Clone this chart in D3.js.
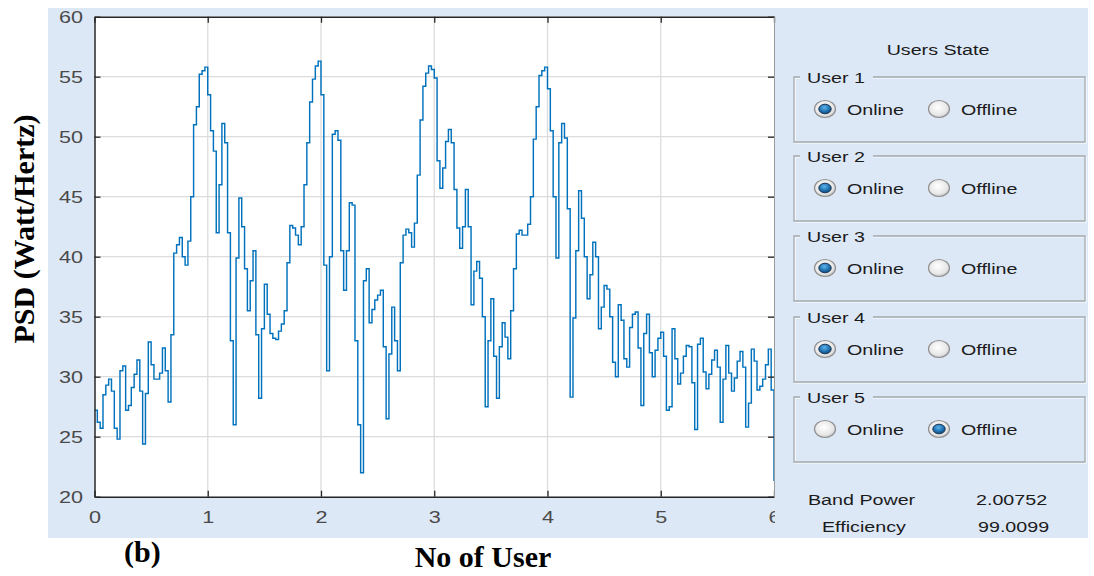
<!DOCTYPE html>
<html><head><meta charset="utf-8">
<script src="https://cdn.jsdelivr.net/npm/d3@7"></script>
<style>body{margin:0;background:#fff}</style>
</head><body>
<svg id="chart" width="1094" height="576"></svg>
<script>
// ---------- data ----------
const xTicks = [0, 1, 2, 3, 4, 5, 6];
const yTicks = [20, 25, 30, 35, 40, 45, 50, 55, 60];
const xDomain = [0, 6];
const yDomain = [20, 60];
const sampleStep = 0.025; // spacing of the PSD samples along "No of User"
const psdValues = [
  27.2, 26.2, 25.7, 28.5, 29.3, 29.8, 28.8, 25.7, 24.8, 30.5,
  30.9, 27.2, 27.6, 29.1, 30.2, 31.4, 28.8, 24.4, 28.6, 32.9,
  31.0, 29.8, 29.8, 30.3, 32.4, 30.5, 27.9, 33.5, 40.3, 41.0,
  41.6, 40.0, 39.3, 41.3, 45.0, 51.0, 52.5, 55.2, 55.5, 55.8,
  53.5, 50.5, 48.8, 42.0, 46.0, 51.1, 49.5, 42.0, 33.0, 26.0,
  39.9, 44.9, 42.5, 39.0, 35.5, 38.0, 40.5, 33.5, 28.2, 34.0,
  37.7, 35.2, 33.6, 33.2, 33.1, 33.8, 34.4, 35.5, 39.5, 42.6,
  42.4, 41.8, 41.0, 42.5, 46.0, 49.5, 52.9, 54.8, 55.9, 56.3,
  53.5, 39.3, 30.5, 40.0, 50.2, 50.5, 49.7, 40.5, 37.2, 40.5,
  44.5, 44.3, 33.0, 26.0, 22.0, 38.0, 39.0, 34.5, 35.6, 36.4,
  36.8, 37.2, 32.5, 26.5, 31.9, 35.8, 33.0, 30.5, 39.5, 41.8,
  42.3, 42.0, 40.8, 42.8, 46.8, 51.4, 54.2, 55.3, 55.9, 55.6,
  54.9, 48.0, 45.7, 47.4, 49.6, 50.6, 49.5, 45.6, 42.4, 40.7,
  42.5, 45.6, 42.5, 36.0, 38.8, 39.6, 38.2, 35.0, 27.5, 33.0,
  36.5, 31.7, 28.2, 32.5, 34.5, 33.3, 31.5, 35.5, 39.0, 41.9,
  42.2, 41.8, 41.8, 42.7, 45.0, 49.8, 52.5, 55.1, 55.5, 55.8,
  54.0, 50.5, 45.0, 39.9, 49.5, 51.1, 49.9, 44.0, 28.3, 34.9,
  40.5, 45.5, 43.2, 40.0, 36.5, 38.5, 41.2, 40.0, 34.0, 35.8,
  37.6, 37.3, 35.0, 31.2, 30.0, 36.0, 34.7, 31.5, 30.8, 34.1,
  35.2, 35.4, 32.4, 27.6, 33.6, 35.2, 32.0, 30.0, 32.2, 33.2,
  33.7, 31.7, 27.2, 27.5, 34.0, 31.5, 29.4, 30.3, 31.7, 32.6,
  32.5, 29.5, 25.6, 32.7, 33.2, 30.4, 29.0, 30.2, 31.4, 32.2,
  30.8, 26.2, 29.8, 32.6, 30.3, 28.8, 29.9, 31.3, 32.1, 30.8,
  25.8, 27.8, 32.3, 31.3, 28.9, 29.2, 29.8, 31.0, 32.3, 28.9,
  21.3
];
const users = ["User 1", "User 2", "User 3", "User 4", "User 5"];
const userStates = ["Online", "Online", "Online", "Online", "Offline"];
const stateOptions = ["Online", "Offline"];
const statLabels = ["Band Power", "Efficiency"];
const statValues = ["2.00752", "99.0099"];
const yAxisTitle = "PSD (Watt/Hertz)";
const xAxisTitle = "No of User";
const panelTag = "(b)";
const panelTitle = "Users State";

// ---------- layout ----------
const W = 1094, H = 576;
const plot = {l: 94.5, r: 774, t: 16.7, b: 496.7};
const SX = 1.27; // horizontal stretch of the screenshot's UI text
const uiFont = "'Liberation Sans', Arial, sans-serif";
const serif = "'Liberation Serif', 'Times New Roman', serif";

const svg = d3.select("#chart");
svg.append("rect").attr("width", W).attr("height", H).attr("fill", "#fff");
svg.append("rect").attr("x", 48).attr("y", 8).attr("width", 1040).attr("height", 530).attr("fill", "#dde8f7");

const x = d3.scaleLinear().domain(xDomain).range([plot.l, plot.r]);
const y = d3.scaleLinear().domain(yDomain).range([plot.b, plot.t]);

svg.append("rect").attr("x", plot.l).attr("y", plot.t)
  .attr("width", plot.r - plot.l).attr("height", plot.b - plot.t).attr("fill", "#fff");

const defs = svg.append("defs");
defs.append("clipPath").attr("id", "plotClip").append("rect")
  .attr("x", plot.l).attr("y", plot.t).attr("width", plot.r - plot.l + 2).attr("height", plot.b - plot.t);
defs.append("clipPath").attr("id", "xlabClip").append("rect")
  .attr("x", 0).attr("y", 0).attr("width", 775).attr("height", H);

// grid
const grid = svg.append("g").attr("stroke", "#dcdcdc").attr("stroke-width", 1.3);
grid.selectAll("line.gx").data(xTicks.filter(t => t > xDomain[0] && t < xDomain[1])).join("line")
  .attr("x1", d => x(d)).attr("x2", d => x(d)).attr("y1", plot.t).attr("y2", plot.b);
grid.selectAll("line.gy").data(yTicks.filter(t => t > yDomain[0] && t < yDomain[1])).join("line")
  .attr("x1", plot.l).attr("x2", plot.r).attr("y1", d => y(d)).attr("y2", d => y(d));

// PSD line
const series = psdValues.map((v, i) => ({u: i * sampleStep, v}));
const line = d3.line().x(d => x(d.u)).y(d => y(d.v)).curve(d3.curveStepAfter);
svg.append("path").datum(series).attr("clip-path", "url(#plotClip)")
  .attr("d", line).attr("fill", "none").attr("stroke", "#0072BD")
  .attr("stroke-width", 1.45).attr("stroke-linejoin", "miter");

// axes
function styleAxis(g) {
  g.select(".domain").attr("stroke", "#262626").attr("stroke-width", 1.5);
  g.selectAll(".tick line").attr("stroke", "#262626").attr("stroke-width", 1.3);
  g.selectAll(".tick text").attr("fill", "#4a4a4a").attr("font-family", uiFont).attr("font-size", 17);
}
const gL = svg.append("g").attr("transform", `translate(${plot.l},0)`)
  .call(d3.axisLeft(y).tickValues(yTicks).tickFormat(d3.format("d")).tickSize(-6).tickSizeOuter(0).tickPadding(9));
styleAxis(gL);
gL.selectAll(".tick text").attr("transform", `scale(${SX},1)`);

const gBwrap = svg.append("g").attr("clip-path", "url(#xlabClip)");
const gB = gBwrap.append("g").attr("transform", `translate(0,${plot.b})`)
  .call(d3.axisBottom(x).tickValues(xTicks).tickFormat(d3.format("d")).tickSize(-6).tickSizeOuter(0).tickPadding(14));
styleAxis(gB);
gB.selectAll(".tick text").attr("transform", `scale(${SX},1)`);

const gT = svg.append("g").attr("transform", `translate(0,${plot.t})`)
  .call(d3.axisTop(x).tickValues(xTicks).tickSize(-6).tickSizeOuter(0).tickFormat(""));
styleAxis(gT);
const gR = svg.append("g").attr("transform", `translate(${plot.r},0)`)
  .call(d3.axisRight(y).tickValues(yTicks).tickSize(-6).tickSizeOuter(0).tickFormat(""));
styleAxis(gR);
gR.select(".domain").attr("stroke", "#9a9a9a").attr("stroke-width", 1);

// axis titles (paper annotation, bold serif)
svg.append("text").attr("transform", "translate(34,229) rotate(-90)")
  .attr("text-anchor", "middle").attr("font-family", serif).attr("font-weight", "bold")
  .attr("font-size", 30).attr("fill", "#000").text(yAxisTitle);
svg.append("text").attr("x", 483).attr("y", 567)
  .attr("text-anchor", "middle").attr("font-family", serif).attr("font-weight", "bold")
  .attr("font-size", 30).attr("fill", "#000").text(xAxisTitle);
svg.append("text").attr("x", 124).attr("y", 562)
  .attr("font-family", serif).attr("font-weight", "bold")
  .attr("font-size", 30).attr("fill", "#000").text(panelTag);

// ---------- right UI panel ----------
function uiText(parent, px, py, str, size, anchor) {
  const g = parent.append("g").attr("transform", `translate(${px},${py}) scale(${SX},1)`);
  const t = g.append("text").text(str).attr("font-family", uiFont).attr("font-size", size || 15.5)
    .attr("fill", "#1b1b1b").attr("text-anchor", anchor || "start");
  return t;
}

// radio gradients
const gOff = defs.append("radialGradient").attr("id", "radOff").attr("cx", "45%").attr("cy", "40%").attr("r", "65%");
gOff.append("stop").attr("offset", "0%").attr("stop-color", "#ffffff");
gOff.append("stop").attr("offset", "70%").attr("stop-color", "#e6e6e6");
gOff.append("stop").attr("offset", "100%").attr("stop-color", "#b8b8b8");
const gOn = defs.append("radialGradient").attr("id", "radOn").attr("cx", "45%").attr("cy", "35%").attr("r", "70%");
gOn.append("stop").attr("offset", "0%").attr("stop-color", "#5fb4ec");
gOn.append("stop").attr("offset", "60%").attr("stop-color", "#1d6fae");
gOn.append("stop").attr("offset", "100%").attr("stop-color", "#0d3f6e");

const panel = svg.append("g");
uiText(panel, 938, 55, panelTitle, 15.5, "middle");

const boxTops = [77, 156, 236, 317, 397];
const boxL = 794, boxR = 1085, boxH = 65;
const optionX = [825, 939];

users.forEach((u, i) => {
  const top = boxTops[i];
  const lbl = uiText(panel, 807, top + 6, u, 15.5);
  const gapEnd = 807 + lbl.node().getComputedTextLength() * SX + 8;
  const pathD = (o) => `M${boxL + 6},${top + o} H${boxL + o} V${top + boxH + o} H${boxR + o} V${top + o} H${gapEnd}`;
  panel.append("path").attr("d", pathD(1)).attr("fill", "none").attr("stroke", "#ffffff").attr("stroke-width", 1.2);
  panel.append("path").attr("d", pathD(0)).attr("fill", "none").attr("stroke", "#a4a8ad").attr("stroke-width", 1.3);

  const cy = top + 32;
  stateOptions.forEach((opt, j) => {
    const cx = optionX[j];
    panel.append("ellipse").attr("cx", cx).attr("cy", cy).attr("rx", 10.5).attr("ry", 8.5)
      .attr("fill", "url(#radOff)").attr("stroke", "#8f8f8f").attr("stroke-width", 1.2);
    if (userStates[i] === opt) {
      panel.append("ellipse").attr("cx", cx).attr("cy", cy).attr("rx", 6.2).attr("ry", 4.8)
        .attr("fill", "url(#radOn)").attr("stroke", "#1c3550").attr("stroke-width", 1);
    }
    uiText(panel, cx + 22, cy + 5.5, opt, 15.5);
  });
});

uiText(panel, 808, 505, statLabels[0], 15.5);
uiText(panel, 976, 505, statValues[0], 15.5);
uiText(panel, 822, 532, statLabels[1], 15.5);
uiText(panel, 978, 532, statValues[1], 15.5);
</script>
</body></html>
